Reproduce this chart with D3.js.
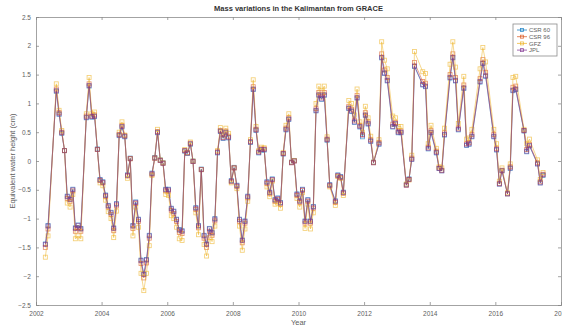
<!DOCTYPE html>
<html>
<head>
<meta charset="utf-8">
<script src="https://cdn.jsdelivr.net/npm/d3@7"></script>
<style>
  body { margin: 0; background: #fff; }
  text { font-family: "Liberation Sans", Arial, sans-serif; }
</style>
</head>
<body>
<div id="chart"></div>
<script>
// months with GRACE data (gaps are just skipped, lines join across them)
var months = [
  "2002-04","2002-05","2002-08","2002-09","2002-10","2002-11","2002-12",
  "2003-01","2003-02","2003-03","2003-04","2003-05","2003-07","2003-08","2003-09","2003-10","2003-11","2003-12",
  "2004-01","2004-02","2004-03","2004-04","2004-05","2004-06","2004-07","2004-08","2004-09","2004-10","2004-11","2004-12",
  "2005-01","2005-02","2005-03","2005-04","2005-05","2005-06","2005-07","2005-08","2005-09","2005-10","2005-11","2005-12",
  "2006-01","2006-02","2006-03","2006-04","2006-05","2006-06","2006-07","2006-08","2006-09","2006-10","2006-11","2006-12",
  "2007-01","2007-02","2007-03","2007-04","2007-05","2007-06","2007-07","2007-08","2007-09","2007-10","2007-11","2007-12",
  "2008-01","2008-02","2008-03","2008-04","2008-05","2008-06","2008-07","2008-08","2008-09","2008-10","2008-11","2008-12",
  "2009-01","2009-02","2009-03","2009-04","2009-05","2009-06","2009-07","2009-08","2009-09","2009-10","2009-11","2009-12",
  "2010-01","2010-02","2010-03","2010-04","2010-05","2010-06","2010-07","2010-08","2010-09","2010-10","2010-11","2010-12",
  "2011-02","2011-03","2011-04","2011-05","2011-07","2011-08","2011-09","2011-10","2011-11","2011-12",
  "2012-01","2012-02","2012-03","2012-04","2012-06","2012-07","2012-08","2012-09","2012-11","2012-12",
  "2013-01","2013-02","2013-04","2013-05","2013-06","2013-07","2013-10","2013-11","2013-12",
  "2014-01","2014-03","2014-04","2014-05","2014-06","2014-08","2014-09","2014-10","2014-11",
  "2015-01","2015-02","2015-03","2015-04","2015-07","2015-08","2015-09","2015-12",
  "2016-01","2016-02","2016-03","2016-05","2016-06","2016-07","2016-08","2016-11","2016-12",
  "2017-01","2017-04","2017-05","2017-06"
];

var csr60 = [
  -1.44,-1.12,1.21,0.81,0.48,0.18,-0.61,
  -0.66,-0.49,-1.16,-1.11,-1.17,0.75,1.30,0.76,0.77,0.21,-0.32,
  -0.36,-0.59,-0.77,-0.89,-1.16,-0.74,0.44,0.59,0.42,-0.24,0.05,-1.12,
  -0.71,-1.01,-1.72,-1.96,-1.71,-1.29,-0.21,0.06,0.49,0.02,-0.03,-0.49,
  -0.49,-0.82,-0.87,-1.01,-1.19,-1.21,0.17,0.13,0.29,0.00,-0.81,-1.12,
  -0.14,-1.29,-1.44,-1.17,-1.24,-1.00,0.14,0.51,0.39,0.49,0.40,-0.34,
  -0.11,-0.42,-1.01,-1.37,-1.04,-0.61,0.32,1.24,0.53,0.14,0.19,0.19,
  -0.36,-0.54,-0.31,-0.67,-0.64,-0.72,0.12,0.54,0.72,-0.02,0.01,-0.57,
  -0.69,-0.49,-1.04,-0.67,-1.04,-0.79,0.87,1.14,1.07,1.14,0.36,-0.41,
  -0.69,-0.24,-0.27,-0.54,0.91,0.86,0.67,1.09,0.59,0.42,
  0.79,0.64,0.34,-0.02,0.29,1.79,1.52,1.39,0.59,0.64,
  0.49,0.49,-0.41,-0.31,0.03,1.64,1.32,1.29,0.21,
  0.49,0.14,-0.13,-0.17,0.45,1.44,1.79,1.39,0.54,
  1.26,0.27,0.29,0.42,1.37,1.69,1.47,0.42,
  0.19,-0.40,-0.17,-0.57,-0.13,1.22,1.24,0.52,0.16,
  0.26,-0.05,-0.38,-0.25
];

var csr96 = [
  -1.50,-1.18,1.25,0.84,0.50,0.18,-0.65,
  -0.70,-0.52,-1.22,-1.16,-1.22,0.78,1.34,0.78,0.80,0.20,-0.34,
  -0.38,-0.62,-0.80,-0.93,-1.21,-0.78,0.46,0.62,0.44,-0.26,0.04,-1.17,
  -0.74,-1.05,-1.78,-2.03,-1.77,-1.34,-0.23,0.05,0.51,0.01,-0.04,-0.52,
  -0.52,-0.86,-0.91,-1.05,-1.24,-1.26,0.18,0.14,0.31,-0.01,-0.84,-1.16,
  -0.15,-1.34,-1.50,-1.22,-1.29,-1.04,0.16,0.53,0.41,0.52,0.43,-0.36,
  -0.12,-0.44,-1.05,-1.42,-1.08,-0.64,0.34,1.29,0.55,0.16,0.21,0.21,
  -0.39,-0.57,-0.33,-0.70,-0.67,-0.75,0.13,0.57,0.75,-0.03,0.00,-0.60,
  -0.72,-0.51,-1.08,-0.70,-1.08,-0.82,0.91,1.19,1.11,1.19,0.38,-0.43,
  -0.72,-0.26,-0.29,-0.56,0.95,0.90,0.71,1.14,0.62,0.46,
  0.84,0.68,0.37,-0.03,0.32,1.86,1.58,1.45,0.64,0.67,
  0.52,0.52,-0.42,-0.32,0.05,1.71,1.38,1.35,0.24,
  0.53,0.17,-0.12,-0.16,0.49,1.50,1.86,1.45,0.57,
  1.32,0.30,0.32,0.46,1.43,1.76,1.54,0.46,
  0.22,-0.39,-0.16,-0.57,-0.10,1.28,1.30,0.53,0.20,
  0.29,-0.03,-0.36,-0.23
];

var gfz = [
  -1.67,-1.30,1.34,0.88,0.53,0.18,-0.73,
  -0.80,-0.58,-1.35,-1.30,-1.35,0.82,1.45,0.82,0.85,0.20,-0.38,
  -0.43,-0.68,-0.88,-1.00,-1.33,-0.87,0.50,0.68,0.45,-0.30,0.04,-1.30,
  -0.80,-1.15,-1.95,-2.25,-1.95,-1.47,-0.25,0.05,0.55,0.02,-0.03,-0.58,
  -0.60,-0.95,-1.00,-1.15,-1.35,-1.38,0.20,0.15,0.33,0.00,-0.90,-1.28,
  -0.15,-1.45,-1.65,-1.33,-1.40,-1.13,0.18,0.58,0.45,0.57,0.48,-0.38,
  -0.12,-0.48,-1.13,-1.55,-1.18,-0.70,0.37,1.41,0.60,0.18,0.24,0.23,
  -0.45,-0.62,-0.35,-0.75,-0.73,-0.82,0.15,0.62,0.82,-0.02,0.01,-0.65,
  -0.80,-0.55,-1.17,-0.75,-1.18,-0.90,1.00,1.30,1.22,1.30,0.42,-0.45,
  -0.77,-0.27,-0.30,-0.60,1.05,1.00,0.80,1.25,0.68,0.50,
  0.95,0.75,0.43,-0.02,0.37,2.07,1.75,1.60,0.78,0.75,
  0.60,0.60,-0.40,-0.33,0.10,1.90,1.55,1.52,0.30,
  0.62,0.22,-0.10,-0.12,0.57,1.68,2.07,1.63,0.65,
  1.47,0.38,0.40,0.55,1.60,1.97,1.72,0.55,
  0.30,-0.35,-0.12,-0.55,-0.05,1.45,1.47,0.55,0.30,
  0.38,0.02,-0.32,-0.20
];

var jpl = [
  -1.45,-1.13,1.22,0.82,0.49,0.18,-0.62,
  -0.67,-0.50,-1.17,-1.12,-1.18,0.76,1.31,0.77,0.78,0.20,-0.33,
  -0.37,-0.60,-0.78,-0.90,-1.17,-0.75,0.45,0.60,0.43,-0.25,0.04,-1.13,
  -0.72,-1.02,-1.73,-1.97,-1.72,-1.30,-0.22,0.05,0.50,0.01,-0.04,-0.50,
  -0.50,-0.83,-0.88,-1.02,-1.20,-1.22,0.18,0.14,0.30,-0.01,-0.82,-1.13,
  -0.15,-1.30,-1.45,-1.18,-1.25,-1.01,0.15,0.52,0.40,0.50,0.41,-0.35,
  -0.12,-0.43,-1.02,-1.38,-1.05,-0.62,0.33,1.25,0.54,0.15,0.20,0.20,
  -0.37,-0.55,-0.32,-0.68,-0.65,-0.73,0.13,0.55,0.73,-0.03,0.00,-0.58,
  -0.70,-0.50,-1.05,-0.68,-1.05,-0.80,0.88,1.15,1.08,1.15,0.37,-0.42,
  -0.70,-0.25,-0.28,-0.55,0.92,0.87,0.68,1.10,0.60,0.45,
  0.80,0.65,0.35,-0.03,0.30,1.80,1.53,1.40,0.60,0.65,
  0.50,0.50,-0.42,-0.32,0.03,1.65,1.33,1.30,0.22,
  0.50,0.15,-0.13,-0.17,0.46,1.45,1.80,1.40,0.55,
  1.27,0.28,0.30,0.43,1.38,1.70,1.48,0.43,
  0.20,-0.40,-0.17,-0.57,-0.12,1.23,1.25,0.53,0.17,
  0.27,-0.05,-0.38,-0.24
];

var seriesNames = ["CSR 60", "CSR 96", "GFZ", "JPL"];
var seriesColors = ["#0072BD", "#D95319", "#EDB120", "#7E2F8E"];
var yTicks = [-2.5, -2, -1.5, -1, -0.5, 0, 0.5, 1, 1.5, 2, 2.5];
var xTickYears = [2002, 2004, 2006, 2008, 2010, 2012, 2014, 2016, 2018];

var margin = {top: 17, right: 1, bottom: 21, left: 36},
    width = 562 - margin.left - margin.right,
    height = 326 - margin.top - margin.bottom;

var svg = d3.select("#chart")
  .append("svg")
    .attr("width", 562)
    .attr("height", 326)
  .append("g")
    .attr("transform", "translate(" + margin.left + "," + margin.top + ")");

var parseMonth = function(s) {
  var p = s.split("-");
  return new Date(+p[0], +p[1] - 1, 15);
};
var dates = months.map(parseMonth);

var x = d3.scaleTime()
  .domain([new Date(2002, 0, 1), new Date(2018, 0, 1)])
  .range([0, width]);
var y = d3.scaleLinear()
  .domain([-2.5, 2.5])
  .range([height, 0]);

var axisColor = "#8c8c8c", labelColor = "#5e5e5e";

// frame (box on, ticks inside on all four sides)
var xt = xTickYears.map(function(d){ return new Date(d, 0, 1); });
svg.append("g")
  .attr("transform", "translate(0," + height + ")")
  .call(d3.axisBottom(x).tickValues(xt).tickSize(-3).tickPadding(6)
    .tickFormat(d3.timeFormat("%Y")));
svg.append("g")
  .call(d3.axisTop(x).tickValues(xt).tickSize(-3).tickFormat(""));
svg.append("g")
  .call(d3.axisLeft(y).tickValues(yTicks).tickSize(-3).tickPadding(5)
    .tickFormat(d3.format("")));
svg.append("g")
  .attr("transform", "translate(" + width + ",0)")
  .call(d3.axisRight(y).tickValues(yTicks).tickSize(-3).tickFormat(""));

svg.selectAll(".domain").attr("stroke", axisColor).attr("stroke-width", 0.8);
svg.selectAll(".tick line").attr("stroke", axisColor).attr("stroke-width", 0.8);
svg.selectAll(".tick text")
  .attr("fill", labelColor)
  .style("font-size", "6.5px");

var allSeries = [csr60, csr96, gfz, jpl];

allSeries.forEach(function(vals, i) {
  var pts = vals.map(function(v, j){ return {date: dates[j], value: v}; });
  svg.append("path")
    .datum(pts)
    .attr("fill", "none")
    .attr("stroke", seriesColors[i])
    .attr("stroke-opacity", 0.5)
    .attr("stroke-width", 1)
    .attr("d", d3.line()
      .x(function(d){ return x(d.date); })
      .y(function(d){ return y(d.value); })
    );
  svg.append("g")
    .selectAll("rect")
    .data(pts)
    .enter().append("rect")
      .attr("x", function(d){ return x(d.date) - 2; })
      .attr("y", function(d){ return y(d.value) - 2; })
      .attr("width", 4)
      .attr("height", 4)
      .attr("fill", "none")
      .attr("stroke", seriesColors[i])
      .attr("stroke-opacity", 0.62)
      .attr("stroke-width", 0.85);
});

// title and axis labels
svg.append("text")
  .attr("x", width / 2)
  .attr("y", -6)
  .attr("text-anchor", "middle")
  .attr("fill", "#333")
  .style("font-size", "7.5px")
  .style("font-weight", "bold")
  .text("Mass variations in the Kalimantan from GRACE");

svg.append("text")
  .attr("x", width / 2)
  .attr("y", height + 19.5)
  .attr("text-anchor", "middle")
  .attr("fill", labelColor)
  .style("font-size", "7.5px")
  .text("Year");

svg.append("text")
  .attr("transform", "translate(-21," + (height / 2) + ") rotate(-90)")
  .attr("text-anchor", "middle")
  .attr("fill", labelColor)
  .style("font-size", "7.5px")
  .text("Equivalent water height (cm)");

// legend
var lg = svg.append("g")
  .attr("transform", "translate(" + (513 - margin.left) + "," + (24 - margin.top) + ")");
lg.append("rect")
  .attr("width", 44)
  .attr("height", 32)
  .attr("fill", "#fff")
  .attr("stroke", axisColor)
  .attr("stroke-width", 0.8);
seriesNames.forEach(function(name, i) {
  var ly = 6 + i * 6.7;
  lg.append("line")
    .attr("x1", 4).attr("x2", 14)
    .attr("y1", ly).attr("y2", ly)
    .attr("stroke", seriesColors[i])
    .attr("stroke-opacity", 0.7);
  lg.append("rect")
    .attr("x", 7.5).attr("y", ly - 1.5)
    .attr("width", 3).attr("height", 3)
    .attr("fill", "none")
    .attr("stroke", seriesColors[i])
    .attr("stroke-opacity", 0.8)
    .attr("stroke-width", 0.8);
  lg.append("text")
    .attr("x", 16)
    .attr("y", ly)
    .attr("dy", "0.35em")
    .attr("fill", labelColor)
    .style("font-size", "6px")
    .text(name);
});
</script>
</body>
</html>
